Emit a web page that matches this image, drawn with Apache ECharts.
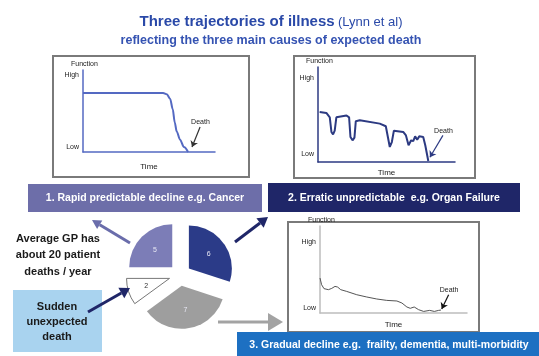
<!DOCTYPE html>
<html>
<head>
<meta charset="utf-8">
<script src="https://cdn.jsdelivr.net/npm/echarts@6/dist/echarts.min.js"></script>
<style>
  html, body { margin: 0; padding: 0; background: #ffffff; }
  #chart { width: 539px; height: 356px; }
</style>
</head>
<body>
<div id="chart"></div>
<script>
// Trajectory 1: rapid predictable decline (x = time 0-100, y = function 0-10)
const rapidDecline = [[0, 7.2], [60.7, 7.2], [63.5, 7.05], [66, 6.5], [68, 5.2], [69.5, 3.6], [71, 2.5], [73.5, 1.5], [76.5, 0.6], [79.6, 0]];

// Trajectory 2: erratic decline with acute episodes
const erraticDecline = [
  [1.2, 5.26], [6.1, 5.16], [8.6, 4.7], [9.8, 3.16], [11.0, 2.9], [12.2, 3.3], [13.4, 4.7], [14.6, 4.9],
  [20.8, 4.9], [22.7, 4.7], [23.7, 2.63], [25.2, 2.28], [26.6, 2.57], [27.6, 4.3], [30.5, 4.39],
  [45.1, 4.04], [49.5, 3.76], [51.0, 2.63], [52.4, 1.58], [53.9, 2.1], [55.4, 3.3], [62.2, 3.16],
  [64.2, 2.8], [66.1, 1.76], [68.0, 2.28], [69.5, 2.2], [70.9, 2.7], [72.4, 2.35], [73.9, 2.7],
  [76.8, 2.63], [78.3, 1.76], [80.5, 0.1]
];

// Trajectory 3: gradual decline
const gradualDecline = [
  [0, 4.02], [1.1, 3.25], [2.7, 2.8], [5.7, 2.68], [8.0, 2.83], [10.2, 3.06], [12.0, 2.98], [14.1, 2.68],
  [18.2, 2.48], [25.0, 2.1], [31.8, 1.84], [38.6, 1.61], [45.4, 1.45], [52.3, 1.38], [55.7, 1.15],
  [59.1, 0.69], [61.4, 0.54], [64.1, 0.69], [67.1, 0.38], [70.5, 0.18], [74.6, 0.3], [77.8, 0.18],
  [80.7, 0.3], [82.3, 0.34]
];

// "Death" pointer in each panel: [label/start point, arrow tip]
const deathPointerA = [[88.7, 3.05], [82.6, 0.6]];
const deathPointerB = [[91.2, 2.8], [81.7, 0.5]];
const deathPointerC = [[87.5, 2.1], [82.8, 0.46]];

// Function-axis tick labels and their positions, per panel
const funcTickLabels = ['Low', 'High'];
const funcTicksA = [0.6, 9.4];
const funcTicksB = [0.8, 8.8];
const funcTicksC = [0.6, 8.1];

// Patient deaths per year for an average GP, by cause (clockwise from 12 o'clock)
const causeNames = ['Organ failure', 'Frailty / dementia', 'Sudden death', 'Cancer'];
const causeDeaths = [6, 7, 2, 5];
const causeColors = ['#2b3b88', '#9e9e9e', '#ffffff', '#7c7db7'];

const FONT = 'Liberation Sans, Arial, sans-serif';

function panelAxes(gridIndex, axisColor, ticks, timeGap) {
  const x = {
    type: 'value', gridIndex, min: 0, max: 100,
    name: 'Time', nameLocation: 'middle', nameGap: timeGap,
    nameTextStyle: { fontSize: 8, color: '#222', fontFamily: FONT },
    axisLine: { show: true, lineStyle: { color: axisColor, width: 1.5 } },
    axisTick: { show: false }, axisLabel: { show: false }, splitLine: { show: false }
  };
  const y = {
    type: 'value', gridIndex, min: 0, max: 10,
    name: 'Function', nameLocation: 'end', nameGap: 2,
    nameTextStyle: { fontSize: 7, color: '#222', fontFamily: FONT, align: 'left', padding: [0, 0, 0, -12] },
    axisLine: { show: true, lineStyle: { color: axisColor, width: 1.5 } },
    axisTick: { show: false }, splitLine: { show: false },
    axisLabel: {
      show: true, margin: 4, fontSize: 7, color: '#222', fontFamily: FONT,
      customValues: ticks,
      formatter: v => funcTickLabels[ticks.indexOf(v)]
    }
  };
  return [x, y];
}

function deathMark(pointer, color) {
  return {
    silent: true, symbol: ['none', 'arrow'], symbolSize: 6,
    lineStyle: { color, width: 1.2, type: 'solid' },
    label: { show: true, position: 'start', formatter: 'Death', fontSize: 7, color: '#222', fontFamily: FONT, distance: 1 },
    data: [[{ coord: pointer[0] }, { coord: pointer[1] }]]
  };
}

// Decorative block arrow: shaft + triangular head
function arrow(x1, y1, x2, y2, color, width, headLen, headHalf) {
  const dx = x2 - x1, dy = y2 - y1, len = Math.hypot(dx, dy);
  const ux = dx / len, uy = dy / len, nx = -uy, ny = ux;
  const bx = x2 - ux * headLen, by = y2 - uy * headLen;
  return [
    { type: 'line', z: 5, shape: { x1, y1, x2: bx, y2: by }, style: { stroke: color, lineWidth: width } },
    { type: 'polygon', z: 5, shape: { points: [[x2, y2], [bx + nx * headHalf, by + ny * headHalf], [bx - nx * headHalf, by - ny * headHalf]] }, style: { fill: color } }
  ];
}

const [xA, yA] = panelAxes(0, '#5469c2', funcTicksA, 11);
const [xB, yB] = panelAxes(1, '#2c3a82', funcTicksB, 7);
const [xC, yC] = panelAxes(2, '#bdbdbd', funcTicksC, 8);

const bannerText = { textAlign: 'center', textVerticalAlign: 'middle', fontSize: 10.5, fontWeight: 'bold', fill: '#ffffff', fontFamily: FONT };

const option = {
  backgroundColor: '#ffffff',
  animation: false,
  grid: [
    { left: 83, top: 70, width: 132, height: 82 },
    { left: 318, top: 67, width: 137, height: 95 },
    { left: 320, top: 226, width: 147, height: 87 }
  ],
  xAxis: [xA, xB, xC],
  yAxis: [yA, yB, yC],
  series: [
    {
      type: 'line', xAxisIndex: 0, yAxisIndex: 0, data: rapidDecline,
      showSymbol: false, smooth: 0.3, smoothMonotone: 'x',
      lineStyle: { color: '#5469c2', width: 2 },
      markLine: deathMark(deathPointerA, '#333')
    },
    {
      type: 'line', xAxisIndex: 1, yAxisIndex: 1, data: erraticDecline,
      showSymbol: false,
      lineStyle: { color: '#2c3a82', width: 2 },
      markLine: deathMark(deathPointerB, '#2c3a82')
    },
    {
      type: 'line', xAxisIndex: 2, yAxisIndex: 2, data: gradualDecline,
      showSymbol: false,
      lineStyle: { color: '#555', width: 1 },
      markLine: deathMark(deathPointerC, '#111')
    },
    {
      type: 'pie', center: [180, 275], radius: 43, startAngle: 90, clockwise: true,
      selectedMode: 'multiple', selectedOffset: 11, silent: true,
      label: { show: true, position: 'inside', formatter: '{c}', fontSize: 7, color: '#e8e8f4', fontFamily: FONT },
      labelLine: { show: false },
      data: causeNames.map((name, i) => ({
        name, value: causeDeaths[i], selected: true,
        itemStyle: {
          color: causeColors[i],
          borderColor: causeColors[i] === '#ffffff' ? '#777' : causeColors[i],
          borderWidth: causeColors[i] === '#ffffff' ? 1 : 0
        },
        label: causeColors[i] === '#ffffff' ? { color: '#333' } : {}
      }))
    }
  ],
  graphic: [
    // Heading
    {
      type: 'text', x: 271, y: 22,
      style: {
        text: '{a|Three trajectories of illness} {b|(Lynn et al)}',
        textAlign: 'center', textVerticalAlign: 'middle',
        rich: {
          a: { fontSize: 15, fontWeight: 'bold', fill: '#2a49a8', fontFamily: FONT },
          b: { fontSize: 13, fill: '#2a49a8', fontFamily: FONT }
        }
      }
    },
    {
      type: 'text', x: 271, y: 41,
      style: { text: 'reflecting the three main causes of expected death', textAlign: 'center', textVerticalAlign: 'middle', fontSize: 12.5, fontWeight: 'bold', fill: '#3553b2', fontFamily: FONT }
    },
    // Panel frames
    { type: 'rect', z: -1, shape: { x: 53, y: 56, width: 196, height: 121 }, style: { fill: 'transparent', stroke: '#7a7a7a', lineWidth: 2 } },
    { type: 'rect', z: -1, shape: { x: 294, y: 56, width: 181, height: 122 }, style: { fill: 'transparent', stroke: '#7a7a7a', lineWidth: 2 } },
    { type: 'rect', z: -1, shape: { x: 288, y: 222, width: 191, height: 110 }, style: { fill: 'transparent', stroke: '#7a7a7a', lineWidth: 2 } },
    // Trajectory banners
    { type: 'rect', shape: { x: 28, y: 184, width: 234, height: 28 }, style: { fill: '#6d6ea9' } },
    { type: 'text', x: 145, y: 198, style: Object.assign({ text: '1. Rapid predictable decline e.g. Cancer' }, bannerText) },
    { type: 'rect', shape: { x: 268, y: 183, width: 252, height: 29 }, style: { fill: '#1f2668' } },
    { type: 'text', x: 394, y: 198, style: Object.assign({ text: '2. Erratic unpredictable  e.g. Organ Failure' }, bannerText) },
    { type: 'rect', shape: { x: 237, y: 332, width: 302, height: 26 }, style: { fill: '#1d70c2' } },
    { type: 'text', x: 389, y: 345, style: Object.assign({ text: '3. Gradual decline e.g.  frailty, dementia, multi-morbidity' }, bannerText) },
    // Side notes
    { type: 'text', x: 58, y: 255, style: { text: 'Average GP has\nabout 20 patient\ndeaths / year', textAlign: 'center', textVerticalAlign: 'middle', fontSize: 11, lineHeight: 16.5, fontWeight: 'bold', fill: '#1a1a1a', fontFamily: FONT } },
    { type: 'rect', shape: { x: 13, y: 290, width: 89, height: 62 }, style: { fill: '#a9d3ef' } },
    { type: 'text', x: 57, y: 322, style: { text: 'Sudden\nunexpected\ndeath', textAlign: 'center', textVerticalAlign: 'middle', fontSize: 11, lineHeight: 15, fontWeight: 'bold', fill: '#1a1a1a', fontFamily: FONT } },
    // Connecting arrows
    ...arrow(130, 243, 92, 220, '#6a6dab', 3, 9, 5),
    ...arrow(235, 242, 268, 217, '#1f2668', 3, 10, 6),
    ...arrow(88, 312, 130, 288, '#1f2668', 3, 10, 6),
    ...arrow(218, 322, 283, 322, '#a3a3a3', 3, 15, 9)
  ]
};

const chart = echarts.init(document.getElementById('chart'), null, { renderer: 'canvas' });
chart.setOption(option);
</script>
</body>
</html>
